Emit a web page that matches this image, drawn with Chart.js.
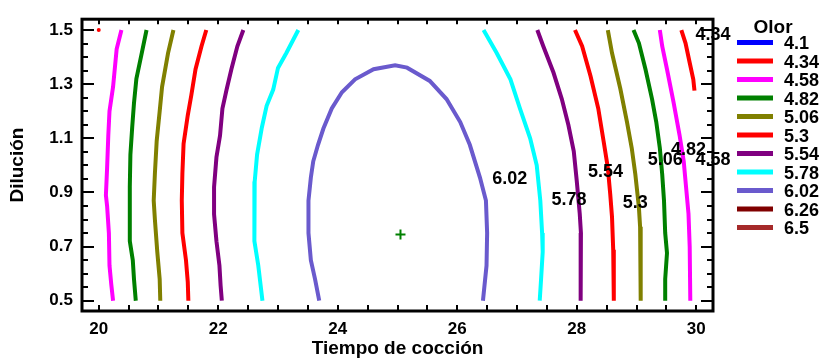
<!DOCTYPE html>
<html lang="es">
<head>
<meta charset="utf-8">
<title>Olor - contornos</title>
<style>
  body{margin:0;background:#fff;}
  #wrap{width:819px;height:358px;}
</style>
<script src="https://cdn.jsdelivr.net/npm/chart.js@4/dist/chart.umd.min.js"></script>
</head>
<body>
<div id="wrap"><canvas id="olorChart" width="819" height="358"></canvas></div>
<script>
// niveles de la leyenda
const levels = ['4.1','4.34','4.58','4.82','5.06','5.3','5.54','5.78','6.02','6.26','6.5'];
const levelColors = ['#0000ff','#ff0000','#ff00ff','#008000','#808000','#ff0000','#800080','#00ffff','#6a5acd','#800000','#a52a2a'];

const xTicks = [20,22,24,26,28,30];
const yTicks = [0.5,0.7,0.9,1.1,1.3,1.5];

// contornos: [tiempo, dilucion]
const c434Corner = [[20,1.5]];
const c434R = [[29.75,1.5],[29.82,1.452],[29.89,1.379],[29.95,1.318],[29.97,1.276]];
const c458L = [[20.38,1.5],[20.30,1.43],[20.24,1.29],[20.18,1.20],[20.16,1.11],[20.14,0.99],[20.12,0.89],[20.14,0.85],[20.17,0.75],[20.18,0.63],[20.21,0.56],[20.24,0.5]];
const c458R = [[29.39,1.5],[29.43,1.44],[29.51,1.355],[29.62,1.233],[29.72,1.112],[29.79,1.015],[29.83,0.918],[29.87,0.821],[29.89,0.70],[29.90,0.5]];
const c482L = [[20.80,1.5],[20.72,1.415],[20.63,1.32],[20.59,1.23],[20.56,1.14],[20.53,1.04],[20.52,0.92],[20.52,0.72],[20.57,0.65],[20.59,0.58],[20.62,0.5]];
const c482R = [[28.95,1.5],[29.04,1.452],[29.15,1.355],[29.26,1.245],[29.33,1.161],[29.39,1.064],[29.43,0.967],[29.46,0.87],[29.48,0.75],[29.51,0.676],[29.48,0.58],[29.48,0.5]];
const c506L = [[21.25,1.5],[21.16,1.415],[21.06,1.29],[21.02,1.20],[20.97,1.09],[20.94,0.97],[20.92,0.87],[20.94,0.80],[20.98,0.68],[21.02,0.58],[21.03,0.5]];
const c506R = [[28.52,1.5],[28.59,1.415],[28.73,1.282],[28.84,1.161],[28.92,1.064],[28.98,0.967],[29.04,0.845],[29.06,0.773],[29.07,0.5]];
const c530L = [[21.80,1.5],[21.72,1.44],[21.62,1.355],[21.55,1.26],[21.49,1.185],[21.42,1.08],[21.40,0.97],[21.39,0.87],[21.40,0.75],[21.46,0.65],[21.49,0.57],[21.50,0.5]];
const c530R = [[27.97,1.5],[28.09,1.44],[28.23,1.33],[28.36,1.21],[28.45,1.088],[28.52,0.991],[28.56,0.894],[28.59,0.809],[28.61,0.688],[28.62,0.5]];
const c554L = [[22.42,1.5],[22.32,1.44],[22.22,1.355],[22.14,1.28],[22.07,1.21],[22.03,1.11],[21.97,1.03],[21.93,0.92],[21.93,0.82],[21.97,0.72],[22.02,0.63],[22.04,0.555],[22.06,0.5]];
const c554R = [[27.34,1.5],[27.44,1.44],[27.61,1.343],[27.75,1.245],[27.86,1.149],[27.95,1.052],[28.00,0.942],[28.05,0.821],[28.07,0.75],[28.07,0.63],[28.06,0.5]];
const c578L = [[23.34,1.5],[23.14,1.415],[23.00,1.36],[22.92,1.28],[22.81,1.22],[22.73,1.14],[22.65,1.04],[22.61,0.94],[22.60,0.845],[22.61,0.72],[22.67,0.63],[22.71,0.555],[22.74,0.5]];
const c578R = [[26.44,1.5],[26.66,1.415],[26.89,1.318],[27.05,1.21],[27.22,1.10],[27.33,1.00],[27.39,0.87],[27.42,0.75],[27.43,0.68],[27.40,0.57],[27.38,0.5]];
const c602 = [[23.69,0.5],[23.62,0.58],[23.55,0.65],[23.51,0.75],[23.51,0.87],[23.55,0.955],[23.59,1.015],[23.67,1.076],[23.76,1.136],[23.90,1.21],[24.07,1.27],[24.29,1.318],[24.60,1.355],[24.96,1.37],[25.16,1.361],[25.54,1.312],[25.82,1.245],[26.05,1.16],[26.21,1.076],[26.38,0.955],[26.48,0.87],[26.50,0.75],[26.49,0.63],[26.43,0.5]];

// centro del diseno
const centerPoint = [[25.05,0.745]];

// etiquetas de las curvas
const labelTexts = ['4.34','4.82','5.06','4.58','5.54','5.78','5.3','6.02'];
const labelX = [30.28,29.87,29.48,30.28,28.48,27.87,28.98,26.88];
const labelY = [1.481,1.056,1.018,1.018,0.975,0.872,0.86,0.951];

const contours = [
  ['4.34',c434R],['4.58',c458L],['4.58',c458R],['4.82',c482L],['4.82',c482R],
  ['5.06',c506L],['5.06',c506R],['5.3',c530L],['5.3',c530R],['5.54',c554L],['5.54',c554R],
  ['5.78',c578L],['5.78',c578R],['6.02',c602]
];

const FONT = "'Liberation Sans', Arial, sans-serif";
const toPts = arr => arr.map(p => ({x: p[0], y: p[1]}));

const datasets = contours.map(([lvl, pts]) => ({
  label: lvl,
  data: toPts(pts),
  showLine: true,
  borderColor: levelColors[levels.indexOf(lvl)],
  borderWidth: 4,
  borderCapStyle: 'butt',
  pointRadius: 0,
  tension: 0
}));
datasets.push({label:'4.34', data: toPts(c434Corner), showLine:false, pointRadius:2, pointBackgroundColor:'#ff0000', pointBorderWidth:0});
datasets.push({label:'centro', data: toPts(centerPoint), showLine:false, pointStyle:'cross', pointRadius:5, borderColor:'#008000', pointBorderWidth:2});

// marco con marcas hacia dentro, etiquetas y leyenda
const framePlugin = {
  id: 'frame',
  afterDatasetsDraw(chart) {
    const {ctx, chartArea: a, scales: {x, y}} = chart;
    ctx.save();
    ctx.strokeStyle = '#000';
    ctx.lineWidth = 3;
    ctx.strokeRect(a.left, a.top, a.right - a.left, a.bottom - a.top);
    ctx.lineWidth = 2;
    ctx.beginPath();
    for (let i = 0; i <= 20; i++) {
      const px = Math.round(x.getPixelForValue(20 + i * 0.5));
      ctx.moveTo(px, a.bottom); ctx.lineTo(px, a.bottom - 6);
      ctx.moveTo(px, a.top); ctx.lineTo(px, a.top + 5);
    }
    for (let i = 0; i <= 20; i++) {
      const py = Math.round(y.getPixelForValue(0.5 + i * 0.05));
      const len = (i % 4 === 0) ? 12 : 6;
      ctx.moveTo(a.left, py); ctx.lineTo(a.left + len, py);
      ctx.moveTo(a.right, py); ctx.lineTo(a.right - len, py);
    }
    ctx.stroke();

    ctx.fillStyle = '#000';
    ctx.font = 'bold 18px ' + FONT;
    ctx.textAlign = 'center';
    ctx.textBaseline = 'middle';
    labelTexts.forEach((t, i) => {
      ctx.fillText(t, x.getPixelForValue(labelX[i]), y.getPixelForValue(labelY[i]));
    });

    // leyenda
    const lx = a.right + 24;
    ctx.font = 'bold 19px ' + FONT;
    ctx.fillText('Olor', lx + 36, 28);
    ctx.font = 'bold 18px ' + FONT;
    ctx.textAlign = 'left';
    levels.forEach((lvl, i) => {
      const ry = 42.5 + i * 18.5;
      ctx.strokeStyle = levelColors[i];
      ctx.lineWidth = 5;
      ctx.beginPath();
      ctx.moveTo(lx, ry); ctx.lineTo(lx + 36, ry);
      ctx.stroke();
      ctx.fillText(lvl, lx + 47, ry + 2);
    });
    ctx.restore();
  }
};

new Chart(document.getElementById('olorChart').getContext('2d'), {
  type: 'scatter',
  data: { datasets: datasets },
  options: {
    responsive: false,
    animation: false,
    layout: { padding: { left: 0, top: 15, right: 106, bottom: 0 } },
    plugins: { legend: { display: false }, tooltip: { enabled: false } },
    scales: {
      x: {
        type: 'linear', min: 19.72, max: 30.28,
        afterBuildTicks: s => { s.ticks = xTicks.map(v => ({value: v})); },
        afterFit: s => { s.height = 47; },
        grid: { display: false, drawTicks: false },
        border: { display: false },
        ticks: { color: '#000', font: { family: FONT, size: 17, weight: 'bold' }, padding: 8, maxRotation: 0, autoSkip: false,
                 callback: v => String(v) },
        title: { display: true, text: 'Tiempo de cocción', color: '#000', font: { family: FONT, size: 19, weight: 'bold', lineHeight: 1 }, padding: { top: 0, bottom: 0 } }
      },
      y: {
        type: 'linear', min: 0.462, max: 1.54,
        afterBuildTicks: s => { s.ticks = yTicks.map(v => ({value: v})); },
        afterFit: s => { s.width = 82; },
        grid: { display: false, drawTicks: false },
        border: { display: false },
        ticks: { color: '#000', font: { family: FONT, size: 17, weight: 'bold' }, padding: 9, autoSkip: false,
                 callback: v => v.toFixed(1) },
        title: { display: true, text: 'Dilución', color: '#000', font: { family: FONT, size: 19, weight: 'bold' }, padding: { top: 6, bottom: 0 } }
      }
    }
  },
  plugins: [framePlugin]
});
</script>
</body>
</html>
